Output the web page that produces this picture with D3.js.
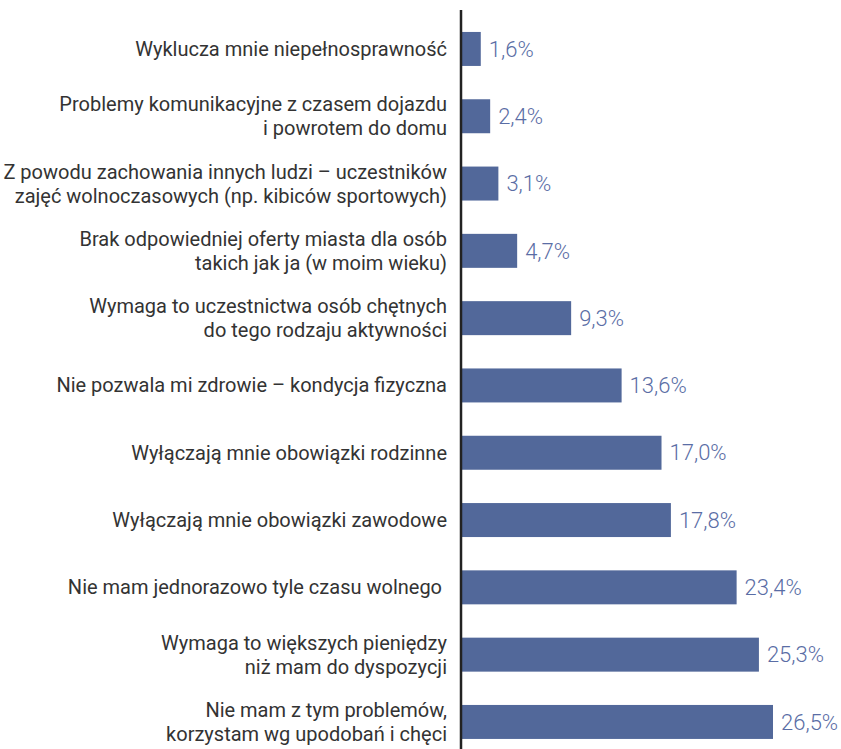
<!DOCTYPE html>
<html>
<head>
<meta charset="utf-8">
<script src="https://cdn.jsdelivr.net/npm/d3@7"></script>
<style>
  body { margin: 0; background: #fff; }
  text { font-family: Roboto, "Noto Sans", sans-serif; }
</style>
</head>
<body>
<div id="main"></div>
<script>
// --- data
const categories = [
  ['Wyklucza mnie niepełnosprawność'],
  ['Problemy komunikacyjne z czasem dojazdu', 'i powrotem do domu'],
  ['Z powodu zachowania innych ludzi – uczestników', 'zajęć wolnoczasowych (np. kibiców sportowych)'],
  ['Brak odpowiedniej oferty miasta dla osób', 'takich jak ja (w moim wieku)'],
  ['Wymaga to uczestnictwa osób chętnych', 'do tego rodzaju aktywności'],
  ['Nie pozwala mi zdrowie – kondycja fizyczna'],
  ['Wyłączają mnie obowiązki rodzinne'],
  ['Wyłączają mnie obowiązki zawodowe'],
  ['Nie mam jednorazowo tyle czasu wolnego '],
  ['Wymaga to większych pieniędzy', 'niż mam do dyspozycji'],
  ['Nie mam z tym problemów,', 'korzystam wg upodobań i chęci']
];
const values = [1.6, 2.4, 3.1, 4.7, 9.3, 13.6, 17.0, 17.8, 23.4, 25.3, 26.5];

const width = 841, height = 749;
const axisX = 461;
const barColor = '#52689a';
const valueColor = '#5a6da5';

const svg = d3.select('#main')
  .append('svg')
  .attr('width', width)
  .attr('height', height);

const xScale = d3.scaleLinear()
  .domain([0, 26.5])
  .range([axisX + 1, 773]);

const yScale = d3.scaleBand()
  .domain(d3.range(values.length))
  .range([15.3, 15.3 + 67.3 * values.length])
  .paddingInner(0.495)
  .paddingOuter(0.2475);

// bars
svg.selectAll('rect.bar')
  .data(values)
  .enter()
  .append('rect')
  .attr('class', 'bar')
  .attr('x', xScale(0))
  .attr('y', (d, i) => yScale(i))
  .attr('width', d => xScale(d) - xScale(0))
  .attr('height', yScale.bandwidth())
  .attr('fill', barColor);

// value labels
svg.selectAll('text.val')
  .data(values)
  .enter()
  .append('text')
  .attr('class', 'val')
  .attr('x', d => xScale(d) + 8)
  .attr('y', (d, i) => yScale(i) + yScale.bandwidth() / 2)
  .attr('dy', '0.35em')
  .attr('fill', valueColor)
  .attr('font-size', 22)
  .attr('font-weight', 300)
  .text(d => d.toFixed(1).replace('.', ',') + '%');

// category labels
const lineH = 24;
const lab = svg.selectAll('text.cat')
  .data(categories)
  .enter()
  .append('text')
  .attr('class', 'cat')
  .attr('text-anchor', 'end')
  .attr('fill', '#333')
  .attr('font-size', 20)
  .style('white-space', 'pre');

lab.each(function(lines, i) {
  const cy = yScale(i) + yScale.bandwidth() / 2;
  const y0 = cy - (lines.length - 1) * lineH / 2;
  d3.select(this).selectAll('tspan')
    .data(lines)
    .enter()
    .append('tspan')
    .attr('x', 447)
    .attr('y', (d, j) => y0 + j * lineH)
    .attr('dy', '0.35em')
    .text(d => d);
});

// axis line
svg.append('line')
  .attr('x1', axisX).attr('x2', axisX)
  .attr('y1', 10).attr('y2', height)
  .attr('stroke', '#222')
  .attr('stroke-width', 2.5);
</script>
</body>
</html>
